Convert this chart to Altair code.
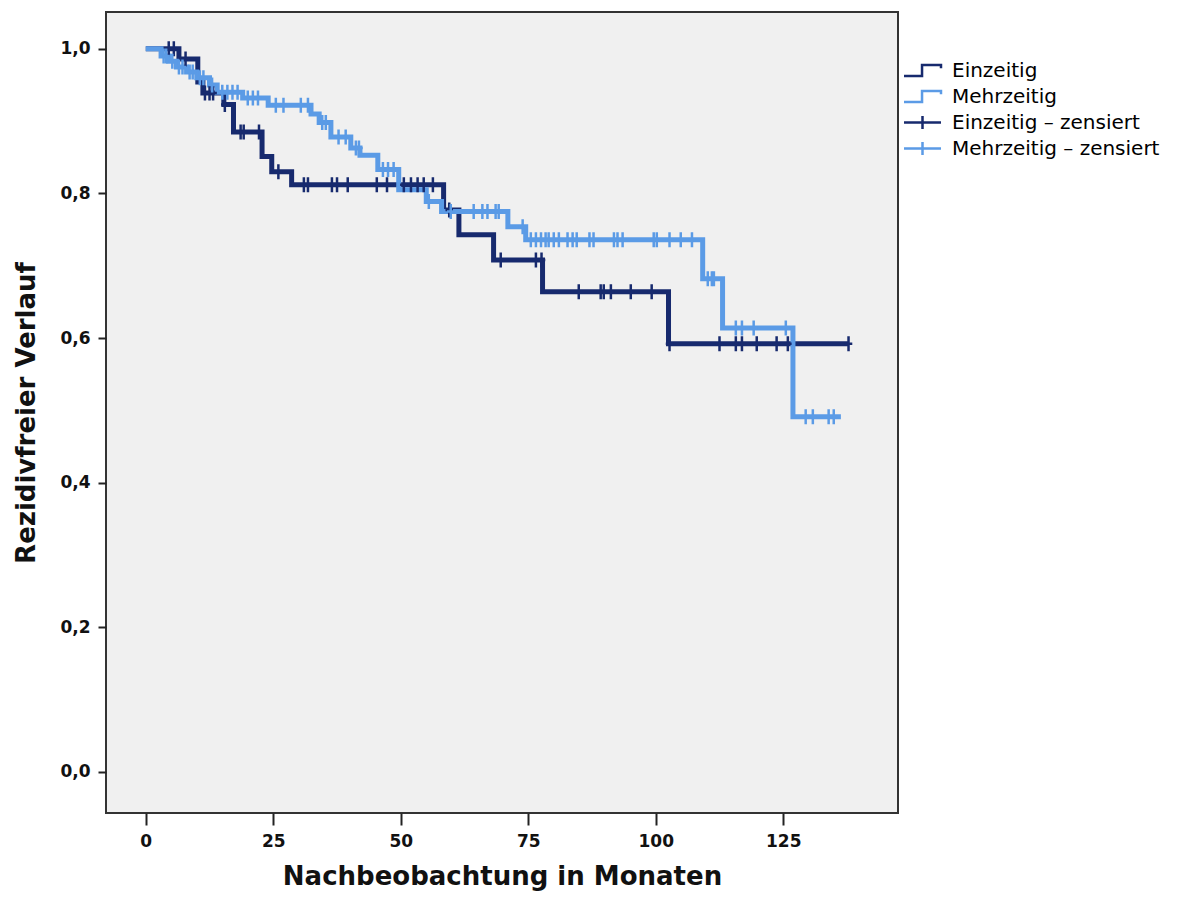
import altair as alt
import pandas as pd

# ---- data (Kaplan-Meier step curves) ----
ein_times = [0, 6.5, 10.2, 11.2, 15.3, 17.2, 22.8, 24.7, 28.6, 58.4, 61.4, 68.2, 77.8, 102.5, 137.8]
ein_surv = [1.0, 0.986, 0.954, 0.939, 0.923, 0.885, 0.851, 0.830, 0.812, 0.777, 0.743, 0.708, 0.664, 0.592, 0.592]

meh_times = [0, 3.0, 4.5, 6.0, 8.0, 10.0, 12.5, 14.0, 19.0, 24.0, 32.4, 34.0, 36.3, 40.2, 42.0,
             45.5, 49.6, 55.0, 58.0, 71.0, 74.5, 109.2, 113.1, 126.9, 136.3]
meh_surv = [1.0, 0.99, 0.983, 0.975, 0.968, 0.96, 0.95, 0.94, 0.932, 0.922, 0.91, 0.898, 0.878, 0.863, 0.853,
            0.833, 0.805, 0.789, 0.775, 0.754, 0.736, 0.682, 0.614, 0.491, 0.491]

ein_censored = [4.5, 5.5, 7.8, 11.6, 12.5, 13.2, 15.5, 18.6, 19.2, 22.2, 26.0, 31.0, 31.8, 36.5, 37.5,
                39.6, 45.3, 47.3, 50.6, 52.0, 53.3, 54.5, 56.3, 59.5, 69.6, 76.5, 77.6, 84.9, 89.2,
                89.8, 91.2, 95.1, 99.2, 102.7, 112.5, 115.7, 116.9, 119.8, 123.7, 125.9, 137.8]
meh_censored = [3.5, 4.0, 5.2, 6.5, 7.2, 8.6, 9.2, 10.6, 11.3, 13.0, 15.0, 16.0, 17.0, 18.0, 20.0,
                21.0, 22.0, 25.5, 27.0, 30.4, 31.8, 34.6, 35.3, 37.8, 39.2, 41.2, 41.8, 46.5, 47.5,
                48.6, 55.5, 59.8, 64.3, 66.0, 67.0, 68.6, 69.2, 73.9, 75.5, 76.5, 77.5, 78.4, 79.0,
                80.0, 81.0, 82.7, 83.7, 84.5, 87.0, 87.8, 91.8, 92.5, 93.5, 99.6, 100.2, 102.7,
                104.9, 107.1, 110.2, 111.0, 111.4, 115.7, 116.9, 119.2, 125.5, 129.4, 130.8, 133.9, 134.9]

legend_labels = ["Einzeitig", "Mehrzeitig", "Einzeitig – zensiert", "Mehrzeitig – zensiert"]
colors = ["#172a6e", "#5b9be6", "#172a6e", "#5b9be6"]
x_ticks = [0, 25, 50, 75, 100, 125]
y_ticks = [0.0, 0.2, 0.4, 0.6, 0.8, 1.0]

STEP_PATH = "M-2,0.6H-0.05V-0.6H2V-0.25"
PLUS_PATH = "M-2,0H2M0,-0.7V0.7"
CENSOR_PATH = "M-0.5,0H0.5M0,-1V1"


def surv_at(t, times, surv):
    v = surv[0]
    for ti, si in zip(times, surv):
        if ti <= t:
            v = si
        else:
            break
    return v


rows = []
for name, times, surv, cens in [
    ("Einzeitig", ein_times, ein_surv, ein_censored),
    ("Mehrzeitig", meh_times, meh_surv, meh_censored),
]:
    for t, s in zip(times, surv):
        rows.append({"t": t, "s": s, "legend": name, "kind": "curve"})
    for c in cens:
        rows.append({"t": c, "s": surv_at(c, times, surv), "legend": name + " – zensiert", "kind": "cens"})
# legend key rows: placed outside the plotted domain and clipped away
for lab in legend_labels:
    rows.append({"t": 1000.0, "s": -5.0, "legend": lab, "kind": "key"})

df = pd.DataFrame(rows)

x_scale = alt.Scale(domain=[-7.8, 147.5], nice=False, zero=False)
y_scale = alt.Scale(domain=[-0.057, 1.051], nice=False, zero=False)
color_scale = alt.Scale(domain=legend_labels, range=colors)
shape_scale = alt.Scale(domain=legend_labels, range=[STEP_PATH, STEP_PATH, PLUS_PATH, PLUS_PATH])

x_axis = alt.Axis(
    values=x_ticks, title="Nachbeobachtung in Monaten", grid=False, domain=False,
    tickSize=12, tickWidth=2, tickColor="#222222",
    labelFont="DejaVu Sans", labelFontWeight="bold", labelFontSize=17, labelColor="#111111",
    labelPadding=8, labelFlush=False,
    titleFont="DejaVu Sans", titleFontWeight="bold", titleFontSize=26, titleColor="#111111",
    titlePadding=14,
)
y_axis = alt.Axis(
    values=y_ticks, labelExpr="replace(format(datum.value, '.1f'), '.', ',')",
    title="Rezidivfreier Verlauf", grid=False, domain=False,
    tickSize=8, tickWidth=2, tickColor="#222222",
    labelFont="DejaVu Sans", labelFontWeight="bold", labelFontSize=17, labelColor="#111111",
    labelPadding=8, labelFlush=False,
    titleFont="DejaVu Sans", titleFontWeight="bold", titleFontSize=26, titleColor="#111111",
    titlePadding=20,
)

legend_def = alt.Legend(
    title=None, orient="none", legendX=806, legendY=48, padding=0,
    labelFont="DejaVu Sans", labelFontSize=20, labelColor="#000000",
    labelOffset=19, rowPadding=3, labelLimit=400,
    symbolSize=342, symbolStrokeWidth=2.5, symbolFillColor="transparent",
)

X = alt.X("t:Q", scale=x_scale, axis=x_axis)
Y = alt.Y("s:Q", scale=y_scale, axis=y_axis)
C = alt.Color("legend:N", scale=color_scale, legend=legend_def)
S = alt.Shape("legend:N", scale=shape_scale, legend=legend_def)

base = alt.Chart(df)

lines = base.transform_filter(alt.datum.kind == "curve").mark_line(
    interpolate="step-after", strokeWidth=5, clip=True
).encode(x=X, y=Y, color=C)

censors = base.transform_filter(alt.datum.kind == "cens").mark_point(
    shape=CENSOR_PATH, size=225, filled=False, strokeWidth=2.5, opacity=1, clip=True
).encode(x=X, y=Y, color=C)

keys = base.transform_filter(alt.datum.kind == "key").mark_point(
    filled=False, size=342, strokeWidth=2.5, opacity=1, clip=True
).encode(x=X, y=Y, color=C, shape=S)

chart = alt.layer(lines, censors, keys).properties(
    width=792, height=801,
    padding={"top": 4, "left": 5, "right": 5, "bottom": 7},
    background="white",
).configure_view(
    fill="#f0f0f0", stroke="#333333", strokeWidth=2
)

chart.save("out.html", embed_options={"renderer": "svg", "actions": False})
